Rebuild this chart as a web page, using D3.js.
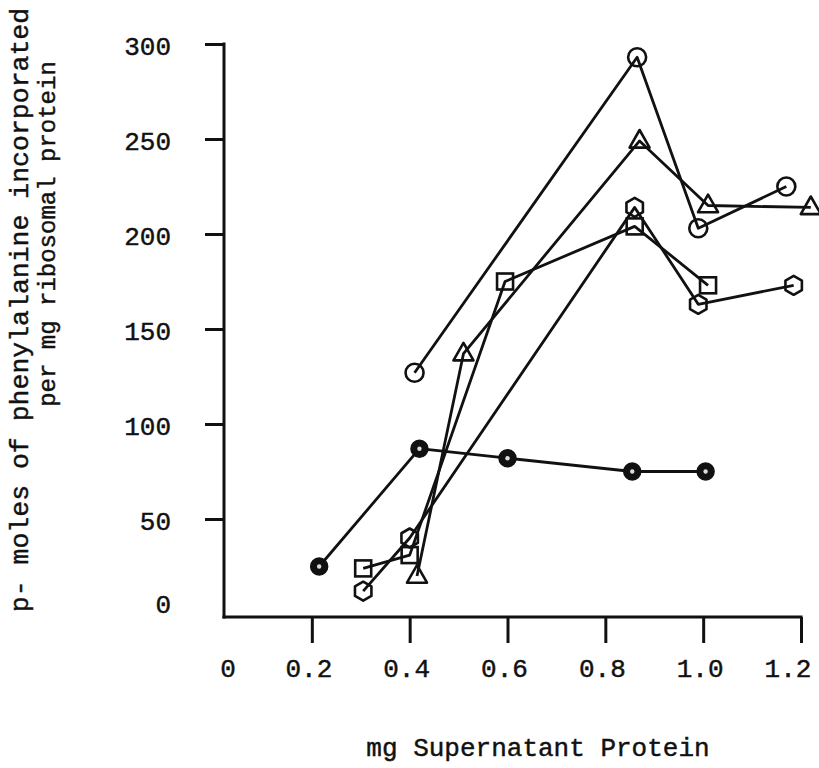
<!DOCTYPE html>
<html>
<head>
<meta charset="utf-8">
<script src="https://cdn.jsdelivr.net/npm/d3@7"></script>
<style>
  html, body { margin: 0; padding: 0; background: #fff; }
  svg { display: block; }
  text { font-family: "Liberation Mono", "DejaVu Sans Mono", monospace; fill: #111; stroke: #111; stroke-width: 0.45px; }
</style>
</head>
<body>
<svg id="chart" width="819" height="768"></svg>
<script>
// ---- data ----
const xTickValues = [0.2, 0.4, 0.6, 0.8, 1.0, 1.2];
const xTickLabels = ["0.2", "0.4", "0.6", "0.8", "1.0", "1.2"];
const yTickValues = [0, 50, 100, 150, 200, 250, 300];
const yTickLabels = ["0", "50", "100", "150", "200", "250", "300"];

const openCircleX = [0.41, 0.865, 0.99, 1.17];
const openCircleY = [127, 293, 203, 225];

const triangleX = [0.415, 0.51, 0.87, 1.01, 1.22];
const triangleY = [20, 137, 249, 215, 214];

const squareX = [0.305, 0.40, 0.595, 0.86, 1.01];
const squareY = [24, 31, 175, 204, 173];

const hexagonX = [0.305, 0.40, 0.86, 0.99, 1.185];
const hexagonY = [12, 40, 214, 163, 173];

const filledCircleX = [0.215, 0.42, 0.60, 0.855, 1.005];
const filledCircleY = [25, 87, 82, 75, 75];

const xTitle = "mg Supernatant Protein";
const yTitle1 = "p- moles of phenylalanine incorporated";
const yTitle2 = "per mg ribosomal protein";

// ---- layout ----
const svg = d3.select("#chart");
const x = d3.scaleLinear().domain([0, 1.2]).range([214, 801]);
const y = d3.scaleLinear().domain([0, 300]).range([614, 44]);
const axisX0 = 224, axisY0 = 617;
const ink = "#111";

// y axis
const yAxis = d3.axisLeft(y).tickValues(yTickValues.slice(1)).tickSize(19).tickFormat("");
const gy = svg.append("g").attr("transform", `translate(${axisX0},0)`).call(yAxis);
gy.select(".domain").remove();
gy.selectAll(".tick line").attr("stroke", ink).attr("stroke-width", 3);
svg.append("line").attr("x1", axisX0).attr("x2", axisX0).attr("y1", y(300) - 1.5).attr("y2", axisY0 + 1.5)
  .attr("stroke", ink).attr("stroke-width", 3);

// y tick labels
svg.append("g").selectAll("text").data(yTickValues).join("text")
  .attr("x", 171)
  .attr("y", (d) => d === 0 ? y(d) - 10 : y(d) + 2)
  .attr("dy", "0.35em")
  .attr("text-anchor", "end")
  .attr("font-size", 26)
  .text((d, i) => yTickLabels[i]);

// x axis
const xAxis = d3.axisBottom(x).tickValues(xTickValues).tickSize(26).tickFormat("");
const gx = svg.append("g").attr("transform", `translate(0,${axisY0})`).call(xAxis);
gx.select(".domain").remove();
gx.selectAll(".tick line").attr("stroke", ink).attr("stroke-width", 3);
svg.append("line").attr("x1", axisX0 - 1.5).attr("x2", x(1.2) + 1.5).attr("y1", axisY0).attr("y2", axisY0)
  .attr("stroke", ink).attr("stroke-width", 3);

// x tick labels
svg.append("g").selectAll("text").data(xTickValues).join("text")
  .attr("x", (d) => Math.min(x(d) - 3, 788))
  .attr("y", 677)
  .attr("text-anchor", "middle")
  .attr("font-size", 26)
  .text((d, i) => xTickLabels[i]);
svg.append("text").attr("x", axisX0 + 4).attr("y", 677).attr("text-anchor", "middle")
  .attr("font-size", 26).text("0");

// titles
svg.append("text").attr("x", 538).attr("y", 756).attr("text-anchor", "middle")
  .attr("font-size", 26).text(xTitle);
svg.append("text").attr("transform", "translate(28,310) rotate(-90)").attr("text-anchor", "middle")
  .attr("font-size", 26.5).text(yTitle1);
svg.append("text").attr("transform", "translate(55,234) rotate(-90)").attr("text-anchor", "middle")
  .attr("font-size", 24).text(yTitle2);

// ---- series ----
const hexPath = (r) => {
  const p = d3.path();
  for (let k = 0; k < 6; k++) {
    const a = Math.PI / 2 + k * Math.PI / 3;
    const px = r * Math.cos(a), py = -r * Math.sin(a);
    if (k === 0) p.moveTo(px, py); else p.lineTo(px, py);
  }
  p.closePath();
  return p.toString();
};
const triPath = (w) => {
  const h = w * 0.88;
  return `M0,${-h * 0.62}L${w / 2},${h * 0.38}L${-w / 2},${h * 0.38}Z`;
};

const series = [
  { xs: openCircleX, ys: openCircleY, shape: "circle" },
  { xs: triangleX, ys: triangleY, shape: "triangle" },
  { xs: squareX, ys: squareY, shape: "square" },
  { xs: hexagonX, ys: hexagonY, shape: "hexagon" },
  { xs: filledCircleX, ys: filledCircleY, shape: "filled" }
];

const line = d3.line().x((d) => x(d[0])).y((d) => y(d[1]));

series.forEach((s) => {
  const pts = s.xs.map((v, i) => [v, s.ys[i]]);
  svg.append("path").datum(pts).attr("d", line)
    .attr("fill", "none").attr("stroke", ink).attr("stroke-width", 2.8)
    .attr("stroke-linejoin", "round");
  const g = svg.append("g");
  pts.forEach((p) => {
    const cx = x(p[0]), cy = y(p[1]);
    if (s.shape === "circle") {
      g.append("circle").attr("cx", cx).attr("cy", cy).attr("r", 9)
        .attr("fill", "none").attr("stroke", ink).attr("stroke-width", 2.6);
    } else if (s.shape === "filled") {
      g.append("circle").attr("cx", cx).attr("cy", cy).attr("r", 8.5)
        .attr("fill", ink).attr("stroke", ink).attr("stroke-width", 1.5);
      g.append("circle").attr("cx", cx).attr("cy", cy).attr("r", 2.2).attr("fill", "#ddd");
    } else if (s.shape === "square") {
      g.append("rect").attr("x", cx - 8).attr("y", cy - 8).attr("width", 16).attr("height", 16)
        .attr("fill", "none").attr("stroke", ink).attr("stroke-width", 2.6);
    } else if (s.shape === "triangle") {
      g.append("path").attr("transform", `translate(${cx},${cy})`).attr("d", triPath(20))
        .attr("fill", "none").attr("stroke", ink).attr("stroke-width", 2.6).attr("stroke-linejoin", "round");
    } else if (s.shape === "hexagon") {
      g.append("path").attr("transform", `translate(${cx},${cy})`).attr("d", hexPath(9.5))
        .attr("fill", "none").attr("stroke", ink).attr("stroke-width", 2.6).attr("stroke-linejoin", "round");
    }
  });
});
</script>
</body>
</html>
